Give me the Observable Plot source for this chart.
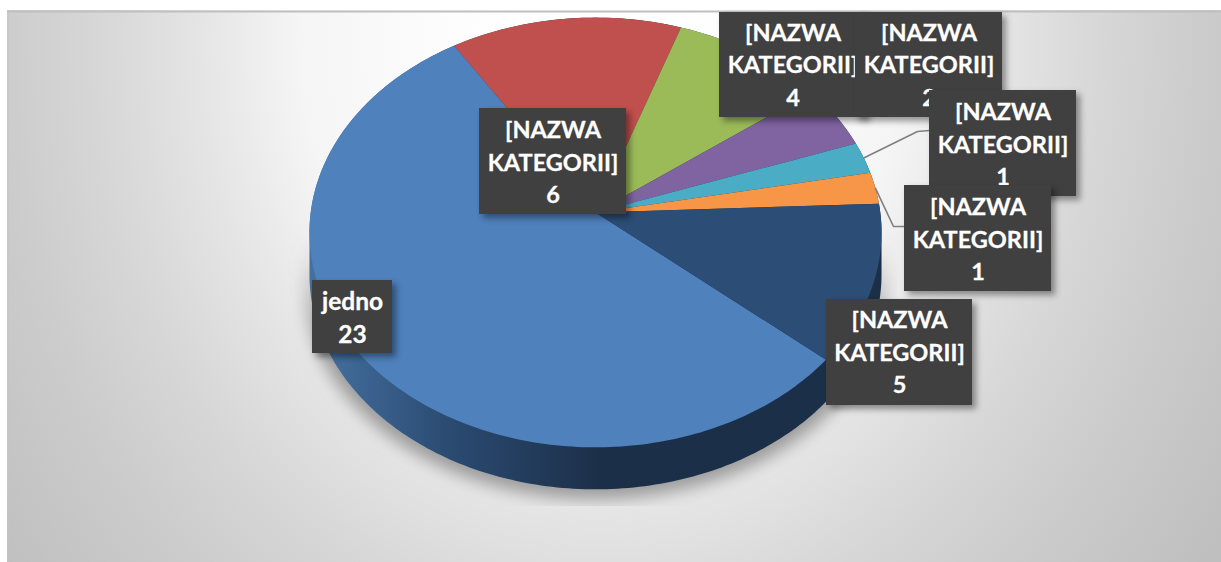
<!DOCTYPE html>
<html><head><meta charset="utf-8">
<script src="https://cdn.jsdelivr.net/npm/d3@7"></script>
<script src="https://cdn.jsdelivr.net/npm/@observablehq/plot@0.6"></script>
<style>html,body{margin:0;padding:0;background:#fff}svg{display:block}</style>
</head><body><div id="chart"></div>
<script>
// Data
const categories = ["jedno","[NAZWA\nKATEGORII]","[NAZWA\nKATEGORII]","[NAZWA\nKATEGORII]","[NAZWA\nKATEGORII]","[NAZWA\nKATEGORII]","[NAZWA\nKATEGORII]"];
const values = [23, 6, 4, 2, 1, 1, 5];
const sliceColors = ["#4f81bd","#c0504d","#9bbb59","#8064a2","#4bacc6","#f79646","#2c4d75"];
// Layout (pixels): label boxes [left, top, right, bottom] and text nudges
const labelBoxes = [[312,280,392,353],[479,108,626,214],[719,12,866,117],[855,12,1002,117],[929,90,1076,196],[904,185,1051,291],[826,299,972,405]];
const labelNudge = [-1,-1,-2,-2,-1,-1,-2];

// Pie geometry
const W = 1221, H = 562;
const apexX = 595, apexY = 212, radX = 284.8, radY = 213, tilt = 0.093, depth = 42;
const startDeg = -40.5;
const total = d3.sum(values);
const xPx = d3.scaleLinear([-1,1],[apexX-radX,apexX+radX]);
const yPx = d3.scaleLinear([-1,1],[apexY+radY,apexY-radY]);
const rad = a => a*Math.PI/180;
const rim = a => { const u=Math.cos(rad(a)), v=Math.sin(rad(a)), w=1+tilt*v; return [u/w, v/w]; };
const ix = xPx.invert, iy = yPx.invert;
const depthU = depth/radY;

// Slices: angle runs clockwise from the start
let acc = 0;
const sliceRows = [], mids = [];
values.forEach((val,i) => {
  const a0 = startDeg - acc/total*360, a1 = startDeg - (acc+val)/total*360;
  acc += val; mids.push((a0+a1)/2);
  sliceRows.push({i, X:0, Y:0});
  const n = Math.max(2, Math.ceil(Math.abs(a1-a0)));
  d3.range(n+1).forEach(k => { const [X,Y]=rim(a0+(a1-a0)*k/n); sliceRows.push({i,X,Y}); });
  sliceRows.push({i, X:0, Y:0});
});
const circle = d3.range(0,360,1).map(rim);
const hull = (pad,off) => d3.polygonHull(circle.flatMap(([X,Y]) => [[X,Y],[X*pad,Y-off]]));
const wallPts = hull(1, depthU).map(([X,Y]) => ({X,Y}));
const shadowPts = hull(1.02, depthU+10/radY).map(([X,Y]) => ({X,Y}));

const defs = () => {
  const svg = d3.create("svg:g");
  const d = svg.append("defs");
  const bg = d.append("radialGradient").attr("id","bgGrad").attr("gradientUnits","userSpaceOnUse")
    .attr("cx",0).attr("cy",0).attr("r",750).attr("gradientTransform","translate(600,40) scale(1,1.18)");
  [[0,"#ffffff"],[.2,"#fdfdfd"],[.4,"#f5f5f5"],[.533,"#e5e5e5"],[.667,"#d7d7d7"],[.8,"#cccccc"],[1,"#bfbfbf"]].forEach(([o,c]) =>
    bg.append("stop").attr("offset",o).attr("stop-color",c));
  const wall = d.append("linearGradient").attr("id","wallGrad").attr("gradientUnits","userSpaceOnUse")
    .attr("x1",320).attr("x2",600).attr("y1",0).attr("y2",0);
  [[0,"#44709f"],[.45,"#2b4b72"],[1,"#1c2f48"]].forEach(([o,c]) =>
    wall.append("stop").attr("offset",o).attr("stop-color",c));
  const sg = d.append("linearGradient").attr("id","shadowGrad").attr("gradientUnits","userSpaceOnUse")
    .attr("x1",0).attr("x2",0).attr("y1",240).attr("y2",345);
  [[0,0],[1,1]].forEach(([o,a]) =>
    sg.append("stop").attr("offset",o).attr("stop-color","#9c9c9c").attr("stop-opacity",a));
  const f = d.append("filter").attr("id","pieShadow").attr("filterUnits","userSpaceOnUse")
    .attr("x",288).attr("y",235).attr("width",608).attr("height",270);
  f.append("feGaussianBlur").attr("stdDeviation",8);
  return svg.node();
};

const labelMarks = labelBoxes.flatMap((b,i) => {
  const row = [{x1:ix(b[0]),x2:ix(b[2]),y1:iy(b[1]),y2:iy(b[3]),cx:ix((b[0]+b[2])/2),cy:iy((b[1]+b[3])/2),
    t:categories[i]+"\n"+values[i]}];
  return [
    Plot.rect(row,{x1:"x1",x2:"x2",y1:"y1",y2:"y2",fill:"#404040",imageFilter:"drop-shadow(4px 4px 3px rgba(0,0,0,0.4))"}),
    Plot.text(row,{x:"cx",y:"cy",text:"t",fill:"#fff",stroke:"#fff",strokeWidth:0.3,fontSize:i===0?24.5:23.5,fontWeight:700,fontFamily:"Lato",lineHeight:i===0?1.33:1.38,textAnchor:"middle",dy:labelNudge[i]})
  ];
});

// leader lines from the rim of the small slices to their labels
const leaders = [
  [rim(mids[4]), [ix(917),iy(131)], [ix(929),iy(130)]],
  [rim(mids[5]), [ix(893),iy(226)], [ix(904),iy(226)]]
].flatMap((pts,z) => pts.map(([X,Y]) => ({z,X,Y})));

const chart = Plot.plot({
  width:W, height:H, margin:0,
  x:{domain:[-1,1],range:[apexX-radX,apexX+radX],axis:null},
  y:{domain:[-1,1],range:[apexY+radY,apexY-radY],axis:null},
  color:{type:"ordinal",domain:d3.range(values.length),range:sliceColors},
  style:{background:"#fff",overflow:"visible"},
  marks:[
    defs,
    Plot.rect([0],{x1:ix(7),x2:ix(1221),y1:iy(10),y2:iy(562),fill:"url(#bgGrad)"}),
    Plot.ruleY([iy(11)],{x1:ix(7),x2:ix(1221),stroke:"#bfbfbf",strokeWidth:2}),
    Plot.ruleX([ix(7.5)],{y1:iy(10),y2:iy(562),stroke:"#c4c4c4",strokeWidth:1}),
    Plot.line(shadowPts,{x:"X",y:"Y",fill:"url(#shadowGrad)",stroke:"none",imageFilter:"url(#pieShadow)"}),
    Plot.line(wallPts,{x:"X",y:"Y",fill:"url(#wallGrad)",stroke:"none"}),
    Plot.line(sliceRows,{x:"X",y:"Y",z:"i",fill:"i",stroke:"none"}),
    Plot.line(leaders,{x:"X",y:"Y",z:"z",stroke:"#7f7f7f",strokeWidth:1.6}),
    ...labelMarks
  ]
});
document.getElementById("chart").append(chart);
</script></body></html>
